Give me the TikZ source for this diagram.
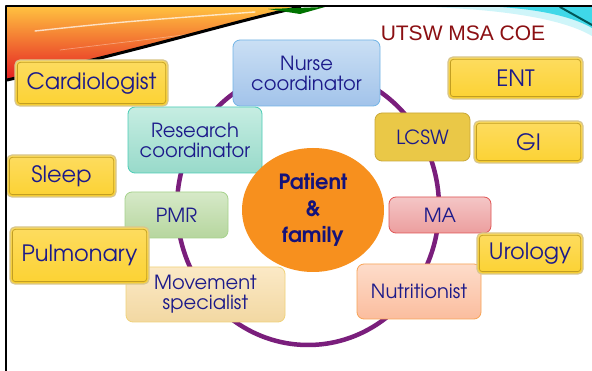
\documentclass[tikz,border=0pt]{standalone}
\usepackage{fontspec}
\setmainfont{TeX Gyre Adventor}
\newfontfamily\arialfont{Liberation Sans}
\usetikzlibrary{shapes.geometric}
\definecolor{ink}{HTML}{1C1A8A}
\definecolor{patink}{HTML}{14127A}
\definecolor{coered}{HTML}{8B0F12}
\definecolor{ringpurple}{HTML}{7A1E7C}
\definecolor{patorange}{HTML}{F7901E}
\definecolor{nurseT}{HTML}{CADFF4}
\definecolor{nurseB}{HTML}{A2C3EA}
\definecolor{nurseD}{HTML}{72B4E6}
\definecolor{resT}{HTML}{C6EDE2}
\definecolor{resB}{HTML}{98DACA}
\definecolor{resD}{HTML}{4ACDB6}
\definecolor{pmrT}{HTML}{D6E9C8}
\definecolor{pmrB}{HTML}{B6D69E}
\definecolor{pmrD}{HTML}{A6D28C}
\definecolor{movT}{HTML}{FBE9C6}
\definecolor{movB}{HTML}{F2D8A2}
\definecolor{movD}{HTML}{F0D27A}
\definecolor{lcswF}{HTML}{EAC847}
\definecolor{lcswD}{HTML}{C9A83A}
\definecolor{maT}{HTML}{F4C6C6}
\definecolor{maB}{HTML}{EC9E9E}
\definecolor{maD}{HTML}{E05454}
\definecolor{nutT}{HTML}{FDDCCA}
\definecolor{nutB}{HTML}{FBBD9E}
\definecolor{nutD}{HTML}{F8A456}
\definecolor{yelT}{HTML}{FDDC60}
\definecolor{yelB}{HTML}{FCD232}
\definecolor{goldout}{HTML}{D8C68E}
\definecolor{goldin}{HTML}{C29E22}
\definecolor{swY}{HTML}{FFC040}
\definecolor{swO}{HTML}{F5801E}
\definecolor{swR}{HTML}{E41E22}
\definecolor{swC}{HTML}{3FD8E8}
\begin{document}
\begin{tikzpicture}[x=1pt, y=-1pt, line join=round, line cap=round,
	team/.style={rounded corners=7pt, draw, line width=0.8pt, text=ink, align=center, inner sep=0pt, font=\fontsize{19.5}{20}\selectfont},
	special/.style={rounded corners=5pt, draw=goldout, line width=1.3pt, top color=yelT, bottom color=yelB, text=ink, inner sep=0pt, font=\fontsize{22.5}{24}\selectfont}]
	\useasboundingbox (0,0) rectangle (592,371);
	\fill[white] (0,0) rectangle (592,371);
	% swoosh
	\shade[top color=swY, middle color=swO, bottom color=swR] (7,7) -- (292,7) .. controls (220,25) and (150,48) .. (7,80) -- cycle;
	\draw[white, line width=1.4pt, opacity=0.7] (35,31) .. controls (120,22) .. (255,12);
	\draw[white, line width=0.7pt, opacity=0.35] (60,50) .. controls (130,42) .. (200,33);
	\draw[black, line width=3pt] (300,7) .. controls (220,25) and (150,48) .. (7,80);
	\fill[green!45!black] (268,9) -- (325,7) -- (300,14) -- cycle;
	\fill[swC!25] (430,7) .. controls (510,10) and (565,20) .. (592,36) -- (592,7) -- cycle;
	\fill[swC] (500,7) .. controls (545,10) and (575,18) .. (592,28) -- (592,7) -- cycle;
	\draw[teal!70!black, line width=2pt] (560,7) -- (592,25);
	% ring
	\draw[ringpurple, line width=4.5pt] (308,207) ellipse [x radius=131, y radius=138];
	% team
	\node[team, minimum width=147pt, minimum height=66pt, draw=nurseD, top color=nurseT, bottom color=nurseB] (nurse) at (306.5,73) {Nurse\\coordinator};
	\node[team, minimum width=134pt, minimum height=66pt, draw=resD, top color=resT, bottom color=resB] (research) at (195,140) {Research\\coordinator};
	\node[team, minimum width=103pt, minimum height=46pt, draw=pmrD, top color=pmrT, bottom color=pmrB] (pmr) at (176.5,215) {PMR};
	\node[team, minimum width=159pt, minimum height=55pt, draw=movD, top color=movT, bottom color=movB] (movement) at (205.5,294.5) {Movement\\specialist};
	\node[team, minimum width=95pt, minimum height=48pt, draw=lcswD, fill=lcswF] (lcsw) at (422.5,137) {LCSW};
	\node[team, minimum width=102pt, minimum height=36pt, draw=maD, top color=maT, bottom color=maB] (ma) at (440,215) {MA};
	\node[team, minimum width=124pt, minimum height=55pt, draw=nutD, top color=nutT, bottom color=nutB] (nutrition) at (419,291.5) {Nutritionist};
	\node[ellipse, fill=patorange, minimum width=142pt, minimum height=124pt, inner sep=0pt, text=patink, align=center, font=\bfseries\fontsize{21}{26.5}\selectfont] (patient) at (313,210) {Patient\\\&\\family};
	% specialists
	\node[special, minimum width=153pt, minimum height=46pt] (cardio) at (91.5,83) {Cardiologist};
	\node[special, minimum width=135pt, minimum height=42pt] (ent) at (515.5,78) {ENT};
	\node[special, minimum width=109pt, minimum height=42pt] (gi) at (528.5,142) {GI};
	\node[special, minimum width=109pt, minimum height=42pt] (sleep) at (61.5,176) {Sleep};
	\node[special, minimum width=139pt, minimum height=57pt] (pulm) at (79.5,255.5) {Pulmonary};
	\node[special, minimum width=106pt, minimum height=41pt] (uro) at (530,253.5) {Urology};
	\foreach \n in {cardio,ent,gi,sleep,pulm,uro}
		\draw[goldin, line width=0.8pt, rounded corners=3pt] ([shift={(3,3)}]\n.north west) rectangle ([shift={(-3,-3)}]\n.south east);
	\node[text=coered, font=\arialfont\fontsize{21}{22}\selectfont] (coe) at (463,33) {UTSW MSA COE};
	% frame
	\draw[line width=2pt, line cap=butt] (6,371) -- (6,6) -- (592,6);
\end{tikzpicture}
\end{document}
